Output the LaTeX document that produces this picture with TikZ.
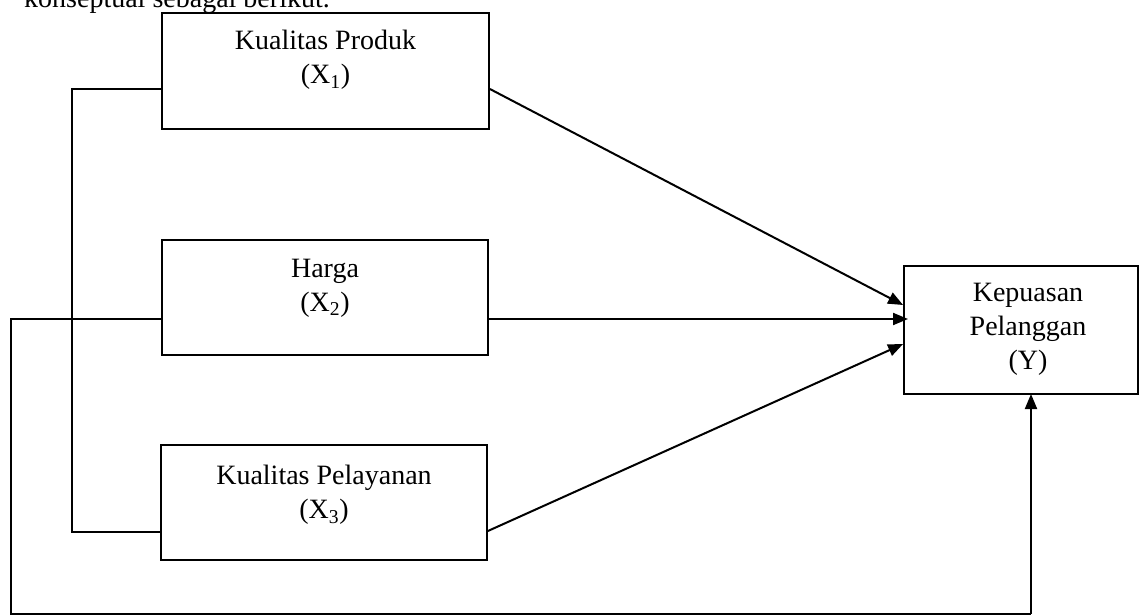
\documentclass[tikz,border=0pt]{standalone}
\usepackage{fontspec}
\setmainfont{Liberation Serif}
\usetikzlibrary{arrows.meta}
\begin{document}
\begin{tikzpicture}[x=1pt,y=-1pt,
  box/.style={draw, line width=1.8pt, inner sep=0pt},
  lbl/.style={align=center, font=\fontsize{28}{34}\selectfont, inner sep=0pt},
  link/.style={line width=1.6pt, line join=miter},
  arr/.style={line width=2pt, -{Triangle[length=15pt,width=12pt]}}]
\useasboundingbox (0,0) rectangle (1144,615);
% top (cut) sentence
\node[font=\fontsize{28}{34}\selectfont, anchor=base west, inner sep=0pt] (intro) at (24,8) {konseptual sebagai berikut.};
% boxes
\node[box, minimum width=327pt, minimum height=116pt] (X1) at (325.5,71) {};
\node[box, minimum width=326pt, minimum height=115pt] (X2) at (325,297.5) {};
\node[box, minimum width=326pt, minimum height=115pt] (X3) at (324,502.5) {};
\node[box, minimum width=234pt, minimum height=128pt] (Y) at (1021,330) {};
% labels
\node[lbl] (tX1) at (325.5,60) {Kualitas Produk\\(X\textsubscript{1})};
\node[lbl] (tX2) at (325,288) {Harga\\(X\textsubscript{2})};
\node[lbl] (tX3) at (324,495) {Kualitas Pelayanan\\(X\textsubscript{3})};
\node[lbl] (tY) at (1028,329) {Kepuasan\\Pelanggan\\(Y)};
% connection points
\coordinate (x1w) at (X1.west |- 0,89);
\coordinate (x2w) at (X2.west |- 0,319);
\coordinate (x3w) at (X3.west |- 0,532);
\coordinate (x1e) at (X1.east |- 0,89);
\coordinate (x2e) at (X2.east |- 0,319);
\coordinate (x3e) at (X3.east |- 0,531);
\coordinate (ya) at (Y.west |- 0,305);
\coordinate (yb) at (908,319);
\coordinate (yc) at (Y.west |- 0,344);
\coordinate (yd) at (1031,394);
\coordinate (ltop) at (72,89);
\coordinate (lbot) at (72,532);
\coordinate (otop) at (11,319);
\coordinate (obl) at (11,614);
\coordinate (obr) at (1031,614);
% brackets
\draw[link] (x1w) -- (ltop) -- (lbot) -- (x3w);
\draw[link] (x2w) -- (otop) -- (obl) -- (obr);
% arrows
\draw[arr] (x1e) -- (ya);
\draw[arr] (x2e) -- (yb);
\draw[arr] (x3e) -- (yc);
\draw[arr] (obr) -- (yd);
\end{tikzpicture}
\end{document}
